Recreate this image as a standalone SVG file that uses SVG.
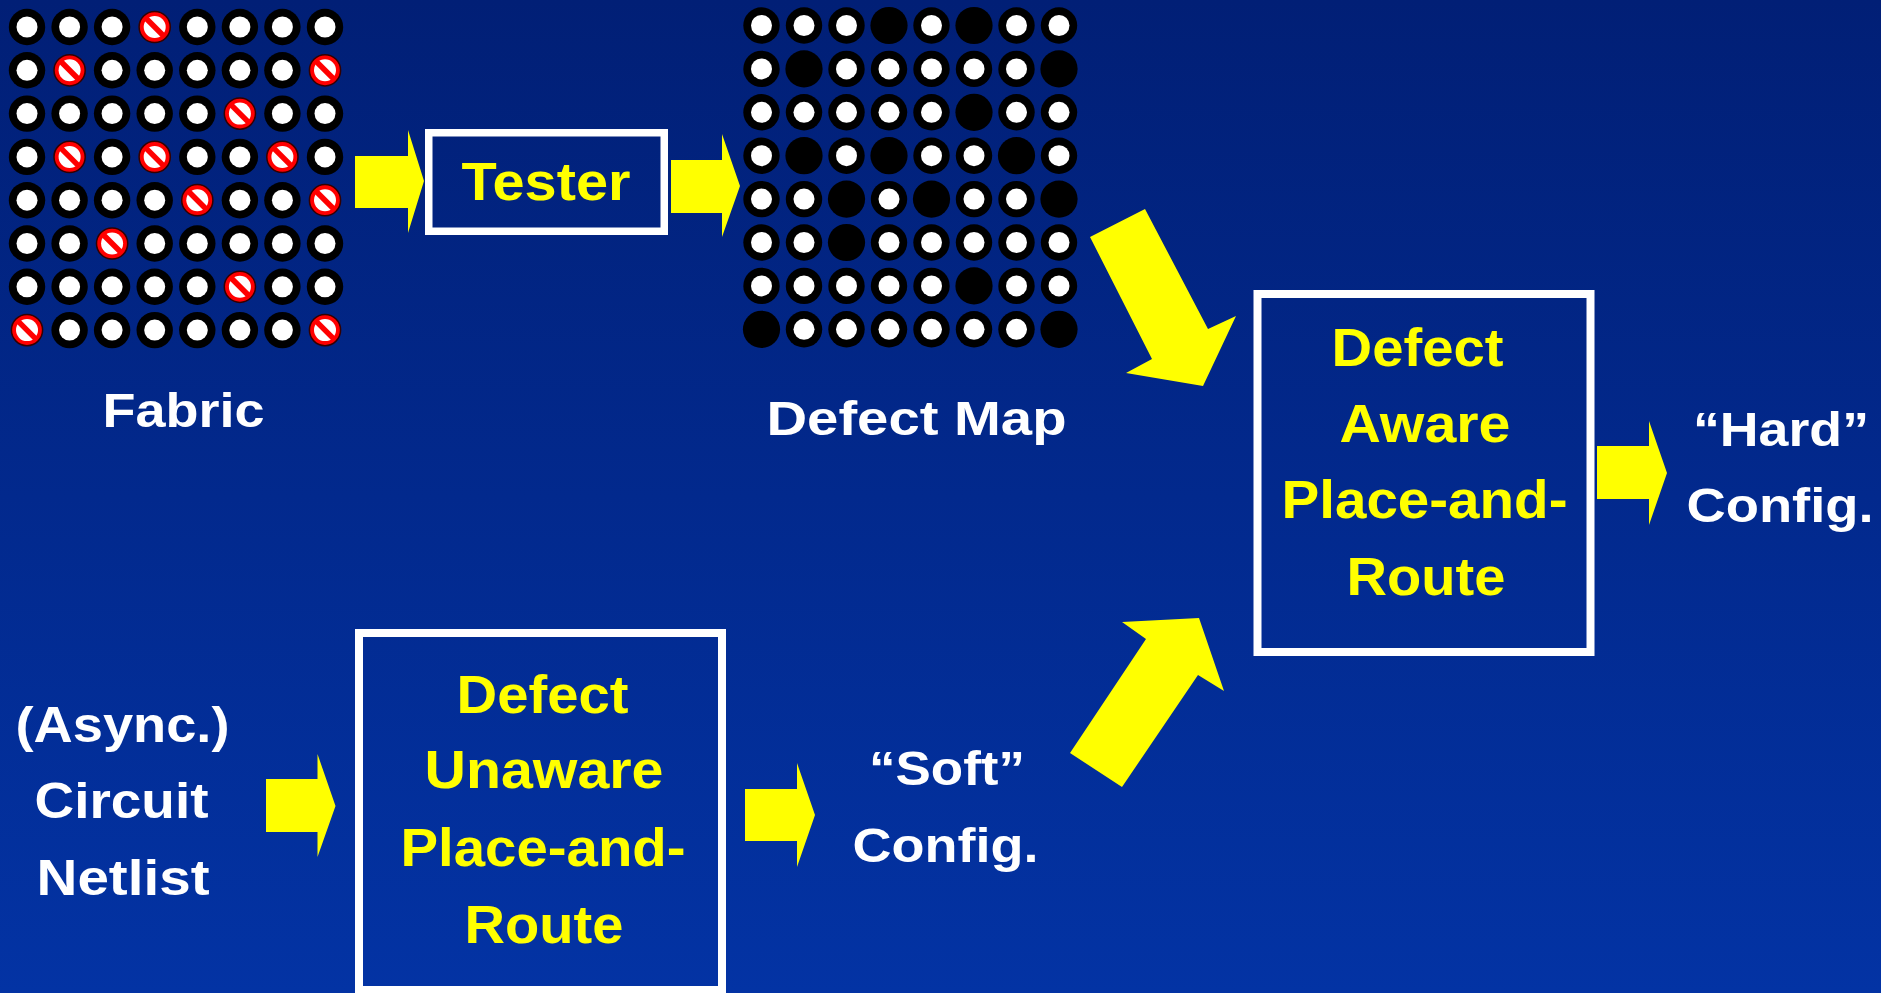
<svg xmlns="http://www.w3.org/2000/svg" xmlns:xlink="http://www.w3.org/1999/xlink" width="1881" height="993" viewBox="0 0 1881 993">
<defs>
<linearGradient id="bg" x1="0" y1="0" x2="0" y2="1">
<stop offset="0" stop-color="#011F76"/>
<stop offset="1" stop-color="#0333A4"/>
</linearGradient>
<g id="ok"><circle r="18.2" fill="#000"/><circle r="10.5" fill="#fff"/></g>
<g id="bad"><circle r="15.6" fill="#f00" stroke="#300" stroke-width="1.5"/><circle r="11" fill="#fff"/><line x1="-8.5" y1="-8.5" x2="8.5" y2="8.5" stroke="#f00" stroke-width="5.5"/></g>
<g id="dead"><circle r="18.6" fill="#000"/></g>
<style>
.w{fill:#fff;font-family:"Liberation Sans",Arial,sans-serif;font-weight:bold;text-anchor:middle}
.y{fill:#ff0;font-family:"Liberation Sans",Arial,sans-serif;font-weight:bold;text-anchor:middle}
.box{fill:none;stroke:#fff}
.arr{fill:#ff0}
</style>
</defs>
<rect width="1881" height="993" fill="url(#bg)"/>

<g id="fabric">
<use href="#ok" x="27" y="27"/><use href="#ok" x="69.6" y="27"/><use href="#ok" x="112.1" y="27"/><use href="#bad" x="154.7" y="27"/><use href="#ok" x="197.3" y="27"/><use href="#ok" x="239.9" y="27"/><use href="#ok" x="282.4" y="27"/><use href="#ok" x="325" y="27"/>
<use href="#ok" x="27" y="70.3"/><use href="#bad" x="69.6" y="70.3"/><use href="#ok" x="112.1" y="70.3"/><use href="#ok" x="154.7" y="70.3"/><use href="#ok" x="197.3" y="70.3"/><use href="#ok" x="239.9" y="70.3"/><use href="#ok" x="282.4" y="70.3"/><use href="#bad" x="325" y="70.3"/>
<use href="#ok" x="27" y="113.6"/><use href="#ok" x="69.6" y="113.6"/><use href="#ok" x="112.1" y="113.6"/><use href="#ok" x="154.7" y="113.6"/><use href="#ok" x="197.3" y="113.6"/><use href="#bad" x="239.9" y="113.6"/><use href="#ok" x="282.4" y="113.6"/><use href="#ok" x="325" y="113.6"/>
<use href="#ok" x="27" y="156.9"/><use href="#bad" x="69.6" y="156.9"/><use href="#ok" x="112.1" y="156.9"/><use href="#bad" x="154.7" y="156.9"/><use href="#ok" x="197.3" y="156.9"/><use href="#ok" x="239.9" y="156.9"/><use href="#bad" x="282.4" y="156.9"/><use href="#ok" x="325" y="156.9"/>
<use href="#ok" x="27" y="200.2"/><use href="#ok" x="69.6" y="200.2"/><use href="#ok" x="112.1" y="200.2"/><use href="#ok" x="154.7" y="200.2"/><use href="#bad" x="197.3" y="200.2"/><use href="#ok" x="239.9" y="200.2"/><use href="#ok" x="282.4" y="200.2"/><use href="#bad" x="325" y="200.2"/>
<use href="#ok" x="27" y="243.5"/><use href="#ok" x="69.6" y="243.5"/><use href="#bad" x="112.1" y="243.5"/><use href="#ok" x="154.7" y="243.5"/><use href="#ok" x="197.3" y="243.5"/><use href="#ok" x="239.9" y="243.5"/><use href="#ok" x="282.4" y="243.5"/><use href="#ok" x="325" y="243.5"/>
<use href="#ok" x="27" y="286.8"/><use href="#ok" x="69.6" y="286.8"/><use href="#ok" x="112.1" y="286.8"/><use href="#ok" x="154.7" y="286.8"/><use href="#ok" x="197.3" y="286.8"/><use href="#bad" x="239.9" y="286.8"/><use href="#ok" x="282.4" y="286.8"/><use href="#ok" x="325" y="286.8"/>
<use href="#bad" x="27" y="330.1"/><use href="#ok" x="69.6" y="330.1"/><use href="#ok" x="112.1" y="330.1"/><use href="#ok" x="154.7" y="330.1"/><use href="#ok" x="197.3" y="330.1"/><use href="#ok" x="239.9" y="330.1"/><use href="#ok" x="282.4" y="330.1"/><use href="#bad" x="325" y="330.1"/>
<text class="w" x="183.5" y="427" font-size="48" textLength="162" lengthAdjust="spacingAndGlyphs">Fabric</text>
</g>

<g id="defect-map">
<use href="#ok" x="761.5" y="25.5"/><use href="#ok" x="804" y="25.5"/><use href="#ok" x="846.5" y="25.5"/><use href="#dead" x="889" y="25.5"/><use href="#ok" x="931.5" y="25.5"/><use href="#dead" x="974" y="25.5"/><use href="#ok" x="1016.5" y="25.5"/><use href="#ok" x="1059" y="25.5"/>
<use href="#ok" x="761.5" y="68.9"/><use href="#dead" x="804" y="68.9"/><use href="#ok" x="846.5" y="68.9"/><use href="#ok" x="889" y="68.9"/><use href="#ok" x="931.5" y="68.9"/><use href="#ok" x="974" y="68.9"/><use href="#ok" x="1016.5" y="68.9"/><use href="#dead" x="1059" y="68.9"/>
<use href="#ok" x="761.5" y="112.3"/><use href="#ok" x="804" y="112.3"/><use href="#ok" x="846.5" y="112.3"/><use href="#ok" x="889" y="112.3"/><use href="#ok" x="931.5" y="112.3"/><use href="#dead" x="974" y="112.3"/><use href="#ok" x="1016.5" y="112.3"/><use href="#ok" x="1059" y="112.3"/>
<use href="#ok" x="761.5" y="155.7"/><use href="#dead" x="804" y="155.7"/><use href="#ok" x="846.5" y="155.7"/><use href="#dead" x="889" y="155.7"/><use href="#ok" x="931.5" y="155.7"/><use href="#ok" x="974" y="155.7"/><use href="#dead" x="1016.5" y="155.7"/><use href="#ok" x="1059" y="155.7"/>
<use href="#ok" x="761.5" y="199.1"/><use href="#ok" x="804" y="199.1"/><use href="#dead" x="846.5" y="199.1"/><use href="#ok" x="889" y="199.1"/><use href="#dead" x="931.5" y="199.1"/><use href="#ok" x="974" y="199.1"/><use href="#ok" x="1016.5" y="199.1"/><use href="#dead" x="1059" y="199.1"/>
<use href="#ok" x="761.5" y="242.5"/><use href="#ok" x="804" y="242.5"/><use href="#dead" x="846.5" y="242.5"/><use href="#ok" x="889" y="242.5"/><use href="#ok" x="931.5" y="242.5"/><use href="#ok" x="974" y="242.5"/><use href="#ok" x="1016.5" y="242.5"/><use href="#ok" x="1059" y="242.5"/>
<use href="#ok" x="761.5" y="285.9"/><use href="#ok" x="804" y="285.9"/><use href="#ok" x="846.5" y="285.9"/><use href="#ok" x="889" y="285.9"/><use href="#ok" x="931.5" y="285.9"/><use href="#dead" x="974" y="285.9"/><use href="#ok" x="1016.5" y="285.9"/><use href="#ok" x="1059" y="285.9"/>
<use href="#dead" x="761.5" y="329.3"/><use href="#ok" x="804" y="329.3"/><use href="#ok" x="846.5" y="329.3"/><use href="#ok" x="889" y="329.3"/><use href="#ok" x="931.5" y="329.3"/><use href="#ok" x="974" y="329.3"/><use href="#ok" x="1016.5" y="329.3"/><use href="#dead" x="1059" y="329.3"/>
<text class="w" x="916.5" y="435" font-size="49" textLength="300" lengthAdjust="spacingAndGlyphs">Defect Map</text>
</g>

<g id="tester">
<rect class="box" x="428.75" y="132.75" width="235.5" height="98.5" stroke-width="7.5"/>
<text class="y" x="546" y="200" font-size="53" textLength="169" lengthAdjust="spacingAndGlyphs">Tester</text>
</g>

<g id="defect-aware-pnr">
<rect class="box" x="1257.5" y="294" width="333" height="358" stroke-width="8"/>
<text class="y" x="1417.5" y="366" font-size="53" textLength="172" lengthAdjust="spacingAndGlyphs">Defect</text>
<text class="y" x="1425" y="442" font-size="53" textLength="171" lengthAdjust="spacingAndGlyphs">Aware</text>
<text class="y" x="1424.5" y="518" font-size="53" textLength="286" lengthAdjust="spacingAndGlyphs">Place-and-</text>
<text class="y" x="1426" y="595" font-size="53" textLength="159" lengthAdjust="spacingAndGlyphs">Route</text>
</g>

<g id="hard-config">
<text class="w" x="1781" y="446" font-size="48" textLength="176" lengthAdjust="spacingAndGlyphs">“Hard”</text>
<text class="w" x="1780" y="522" font-size="48" textLength="187" lengthAdjust="spacingAndGlyphs">Config.</text>
</g>

<g id="netlist">
<text class="w" x="122.5" y="742" font-size="50" textLength="214" lengthAdjust="spacingAndGlyphs">(Async.)</text>
<text class="w" x="121.5" y="818" font-size="50" textLength="174" lengthAdjust="spacingAndGlyphs">Circuit</text>
<text class="w" x="123" y="895" font-size="50" textLength="173" lengthAdjust="spacingAndGlyphs">Netlist</text>
</g>

<g id="defect-unaware-pnr">
<rect class="box" x="359" y="633" width="363" height="357" stroke-width="8"/>
<text class="y" x="542.5" y="713" font-size="53" textLength="172" lengthAdjust="spacingAndGlyphs">Defect</text>
<text class="y" x="544" y="788" font-size="53" textLength="239" lengthAdjust="spacingAndGlyphs">Unaware</text>
<text class="y" x="543" y="866" font-size="53" textLength="285" lengthAdjust="spacingAndGlyphs">Place-and-</text>
<text class="y" x="544" y="943" font-size="53" textLength="159" lengthAdjust="spacingAndGlyphs">Route</text>
</g>

<g id="soft-config">
<text class="w" x="947" y="785" font-size="48" textLength="156" lengthAdjust="spacingAndGlyphs">“Soft”</text>
<text class="w" x="945.5" y="862" font-size="48" textLength="186" lengthAdjust="spacingAndGlyphs">Config.</text>
</g>

<g id="connectors">
<polygon class="arr" points="355,156 408,156 408,130 424,181 408,233 408,208 355,208"/>
<polygon class="arr" points="671,160 722,160 722,134 740,186 722,237 722,213 671,213"/>
<polygon class="arr" points="1090,237 1145,209 1208,329 1236,316 1203,386 1126,373 1152,359"/>
<polygon class="arr" points="1597,446 1649,446 1649,421 1667,473 1649,525 1649,499 1597,499"/>
<polygon class="arr" points="266,779 317.5,779 317.5,754 335.5,806 317.5,857 317.5,832 266,832"/>
<polygon class="arr" points="745,789 797,789 797,763 815,815 797,867 797,841 745,841"/>
<polygon class="arr" points="1070,753 1122,787 1198,675 1224,691 1199,618 1122,622 1146,639"/>
</g>
</svg>
